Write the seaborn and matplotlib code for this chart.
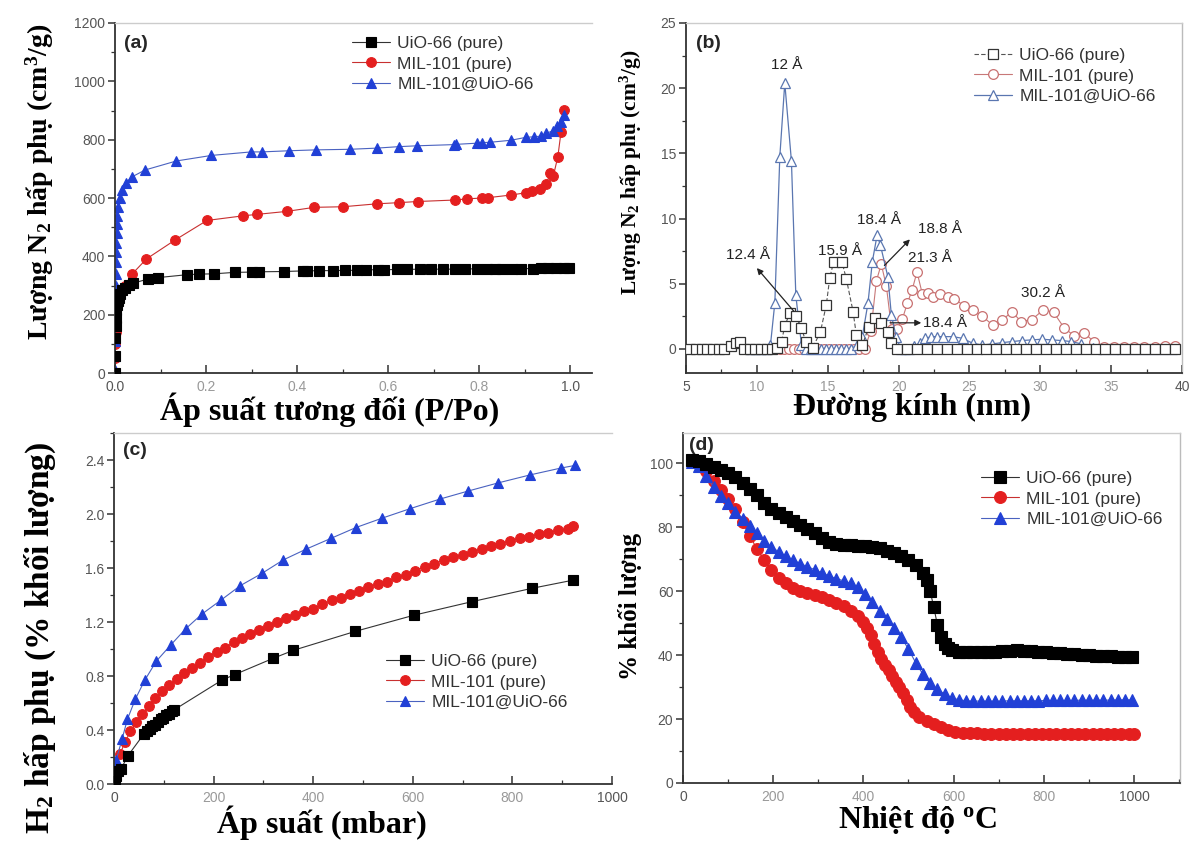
import numpy as np
import pandas as pd
import matplotlib
matplotlib.use('Agg')
import matplotlib.pyplot as plt
import seaborn as sns
from matplotlib.ticker import MultipleLocator

# ---------------- data ----------------
# (a) N2 isotherms
a_uio_x = [0.0, 0.0005, 0.001, 0.0015, 0.002, 0.003, 0.004, 0.006, 0.008, 0.012, 0.016, 0.021, 0.03, 0.04,
           0.072, 0.094, 0.158, 0.184, 0.217, 0.263, 0.30, 0.316, 0.371, 0.413, 0.421, 0.449, 0.478, 0.505,
           0.532, 0.552, 0.577, 0.591, 0.619, 0.641, 0.67, 0.695, 0.72, 0.746, 0.768, 0.796, 0.817, 0.834,
           0.851, 0.872, 0.893, 0.918, 0.935, 0.952, 0.969, 0.986, 0.998]
a_uio_y = [0, 60, 120, 160, 190, 215, 232, 248, 258, 272, 284, 292, 302, 308,
           322, 327, 337, 339, 340, 345, 346, 347, 348, 350, 350, 351, 351, 352,
           352, 354, 354, 354, 355, 355, 356, 356, 356, 356, 357, 357, 357, 358,
           358, 358, 358, 358, 359, 359, 359, 360, 360]
a_mil_x = [0.0, 0.0005, 0.001, 0.0015, 0.002, 0.003, 0.004, 0.006, 0.009, 0.015, 0.021, 0.038, 0.069,
           0.132, 0.202, 0.282, 0.313, 0.377, 0.438, 0.501, 0.575, 0.623, 0.665, 0.746, 0.773, 0.807,
           0.819, 0.869, 0.903, 0.916, 0.933, 0.948, 0.956, 0.963, 0.973, 0.98, 0.987]
a_mil_y = [0, 50, 100, 140, 175, 210, 235, 255, 270, 285, 299, 340, 391,
           456, 523, 539, 544, 554, 568, 570, 580, 584, 588, 593, 597, 600,
           601, 610, 618, 624, 632, 647, 687, 675, 742, 827, 901]
a_comp_x = [0.0, 0.0003, 0.0006, 0.0009, 0.0012, 0.0015, 0.0018, 0.0021, 0.0024, 0.0027, 0.003, 0.0035,
            0.004, 0.005, 0.007, 0.01, 0.015, 0.024, 0.038, 0.066, 0.135, 0.212, 0.299, 0.322, 0.383,
            0.441, 0.516, 0.575, 0.623, 0.664, 0.744, 0.75, 0.796, 0.807, 0.824, 0.87, 0.903, 0.921,
            0.935, 0.948, 0.963, 0.971, 0.979, 0.986]
a_comp_y = [10, 60, 110, 160, 210, 260, 300, 340, 380, 415, 445, 480,
            510, 540, 570, 599, 628, 653, 673, 696, 727, 746, 758, 758, 762,
            765, 767, 771, 776, 779, 783, 784, 788, 790, 791, 798, 808, 810,
            812, 822, 831, 847, 862, 884]

# (b) pore size distribution
b_uio_x = [5.3, 5.7, 6.1, 6.5, 6.9, 7.3, 7.7, 8.2, 8.5, 8.8, 9.1,
           9.5, 9.9, 10.3, 10.7, 11.1, 11.4, 11.74, 11.97, 12.32, 12.75,
           13.15, 13.45, 13.95, 14.49, 14.9, 15.14, 15.42, 16.0, 16.32, 16.79,
           17.02, 17.45, 17.9, 18.31, 18.78, 19.25, 19.48, 19.9, 20.6, 21.3,
           22.0, 22.7, 23.4, 24.1, 24.8, 25.5, 26.2, 26.9, 27.6, 28.3,
           29.0, 29.7, 30.4, 31.1, 31.8, 32.5, 33.2, 33.9, 34.6, 35.3,
           36.0, 36.7, 37.4, 38.1, 38.8, 39.5]
b_uio_y = [0, 0, 0, 0, 0, 0, 0, 0.2, 0.44, 0.5, 0,
           0, 0, 0, 0, 0, 0.1, 0.56, 1.76, 2.74, 2.53,
           1.59, 0.56, 0.1, 1.33, 3.37, 5.42, 6.7, 6.7, 5.34, 2.86,
           1.07, 0.3, 1.71, 2.35, 2.02, 1.33, 0.43, 0, 0, 0,
           0, 0, 0, 0, 0, 0, 0, 0, 0, 0,
           0, 0, 0, 0, 0, 0, 0, 0, 0, 0,
           0, 0, 0, 0, 0, 0]
b_mil_x = [9.5, 9.85, 10.2, 10.55, 10.9, 11.25, 11.6, 11.95, 12.3, 12.65, 13.0, 13.35, 13.7, 14.05,
           14.4, 14.75, 15.1, 15.45, 15.8, 16.15, 16.5, 16.85, 17.2, 17.6,
           18.05, 18.43, 18.78, 19.14, 19.51, 19.9, 20.27, 20.62, 20.95, 21.3,
           21.68, 22.05, 22.4, 22.94, 23.47, 23.9, 24.65, 25.23, 25.89, 26.69,
           27.3, 28.0, 28.64, 29.42, 30.21, 30.94, 31.69, 32.39, 33.1, 33.8,
           34.5, 35.2, 35.9, 36.6, 37.3, 38.1, 38.8, 39.5]
b_mil_y = [0, 0, 0, 0, 0, 0, 0, 0, 0, 0, 0, 0, 0, 0,
           0, 0, 0, 0, 0, 0, 0, 0, 0, 0,
           1.4, 5.2, 6.5, 4.8, 1.5, 1.5, 2.3, 3.5, 4.5, 5.9,
           4.2, 4.3, 3.95, 4.2, 3.95, 3.85, 3.3, 3.0, 2.5, 1.8,
           2.2, 2.85, 2.1, 2.25, 3.0, 2.8, 1.6, 1.0, 1.2, 0.55,
           0.18, 0.12, 0.12, 0.12, 0.12, 0.15, 0.2, 0.25]
b_comp_x = [9.6, 9.95, 10.3, 10.65, 10.96, 11.27, 11.62, 11.97, 12.44, 12.75,
            13.15, 13.5, 13.85, 14.2, 14.55, 14.9, 15.25, 15.6, 15.95, 16.3,
            16.65, 17.07, 17.44, 17.84, 18.15, 18.48, 18.71, 19.25, 19.49, 19.83,
            20.15, 20.45, 20.75, 21.1, 21.48, 21.9, 22.3, 22.7, 23.12, 23.82,
            24.52, 25.23, 25.9, 26.6, 27.3, 28.0, 28.7, 29.4, 30.1, 30.8,
            31.5, 32.2, 32.9, 33.7, 34.4, 35.1, 35.8, 36.5, 37.2, 37.9,
            38.6, 39.3]
b_comp_y = [0, 0, 0, 0, 0.3, 3.55, 14.75, 20.4, 14.4, 4.1,
            0.3, 0, 0, 0, 0, 0, 0, 0, 0, 0,
            0, 0.3, 0.94, 3.5, 6.7, 8.7, 8.0, 5.5, 2.6, 0.94,
            0, 0, 0, 0.2, 0.43, 0.8, 0.94, 0.94, 0.94, 0.94,
            0.81, 0.43, 0.3, 0.38, 0.48, 0.56, 0.64, 0.69, 0.74, 0.69,
            0.64, 0.56, 0.38, 0.05, 0, 0, 0, 0, 0, 0,
            0, 0]

# (c) H2 uptake
c_uio_x = [2, 4.6, 8, 14, 28, 60, 66, 72, 77, 83, 88, 94, 99, 105, 110, 116, 121,
           217, 242, 319, 360, 484, 602, 718, 840, 922]
c_uio_y = [0.02, 0.06, 0.10, 0.11, 0.21, 0.37, 0.39, 0.41, 0.43, 0.44, 0.46, 0.48, 0.49, 0.51, 0.52, 0.54, 0.55,
           0.77, 0.81, 0.93, 0.99, 1.13, 1.25, 1.35, 1.45, 1.51]
c_mil_x = [4, 12, 22, 33, 45, 57, 70, 83, 97, 111, 126, 141, 157, 173, 189, 206, 223, 240, 257, 274,
           292, 310, 328, 346, 364, 382, 400, 418, 437, 455, 474, 492, 511, 530, 548, 567, 586, 605, 624, 643,
           662, 681, 700, 719, 738, 757, 776, 795, 815, 834, 853, 872, 892, 911, 922]
c_mil_y = [0.12, 0.22, 0.31, 0.39, 0.46, 0.52, 0.58, 0.64, 0.69, 0.73, 0.78, 0.82, 0.86, 0.90, 0.94, 0.98, 1.01, 1.05, 1.08, 1.11,
           1.14, 1.17, 1.20, 1.23, 1.25, 1.28, 1.30, 1.33, 1.36, 1.38, 1.41, 1.43, 1.46, 1.48, 1.50, 1.53, 1.55, 1.58, 1.61, 1.63,
           1.66, 1.68, 1.70, 1.72, 1.74, 1.76, 1.78, 1.80, 1.82, 1.83, 1.85, 1.86, 1.88, 1.89, 1.91]
c_comp_x = [2.3, 4.6, 16, 27, 43, 62, 85, 114, 144, 177, 214, 254, 297, 340, 386, 436, 486, 539, 595, 654,
            711, 771, 836, 897, 926]
c_comp_y = [0.155, 0.18, 0.33, 0.48, 0.63, 0.77, 0.91, 1.03, 1.15, 1.26, 1.36, 1.47, 1.56, 1.66, 1.74, 1.82,
            1.90, 1.97, 2.04, 2.11, 2.17, 2.23, 2.29, 2.34, 2.36]

# (d) TGA
d_uio_x = [20, 36, 52, 68, 84, 100, 116, 132, 148, 164, 180, 196, 212, 228, 244, 260, 276, 292, 308, 324,
           340, 356, 372, 388, 404, 420, 436, 452, 468, 484, 500, 516, 532, 540, 548, 556, 564, 572, 580, 588,
           596, 612, 628, 644, 660, 676, 692, 708, 724, 740, 756, 772, 788, 804, 820, 836, 852, 868, 884, 900,
           916, 932, 948, 964, 980, 996]
d_uio_y = [101.0, 100.6, 99.8, 98.8, 97.9, 96.9, 95.5, 93.9, 92.0, 89.9, 87.6, 85.8, 84.4, 83.0, 81.8, 80.7, 79.5, 78.0, 76.5, 75.3,
           74.7, 74.4, 74.3, 74.2, 74.0, 73.8, 73.3, 72.6, 71.8, 70.9, 69.8, 68.2, 65.5, 63.5, 60.0, 55.0, 49.5, 45.5, 43.3, 42.2,
           41.5, 41.0, 40.9, 40.9, 40.9, 41.0, 41.1, 41.2, 41.4, 41.5, 41.4, 41.2, 41.0, 40.8, 40.6, 40.5, 40.3, 40.2, 40.0, 39.9,
           39.8, 39.7, 39.6, 39.5, 39.5, 39.4]
d_mil_x = [20, 36, 52, 68, 84, 100, 116, 132, 148, 164, 180, 196, 212, 228, 244, 260, 276, 292, 308, 324,
           340, 356, 372, 388, 400, 408, 416, 424, 432, 440, 448, 456, 464, 472, 480, 488, 496, 504, 512, 524,
           540, 556, 572, 588, 604, 620, 636, 652, 668, 684, 700, 716, 732, 748, 764, 780, 796, 812, 828, 844,
           860, 876, 892, 908, 924, 940, 956, 972, 988, 1000]
d_mil_y = [100.6, 99.8, 97.5, 94.5, 91.5, 88.8, 85.6, 81.5, 77.2, 73.2, 69.6, 66.6, 64.2, 62.4, 61.0, 60.0, 59.3, 58.7, 58.0, 57.2,
           56.3, 55.2, 53.9, 52.3, 50.2, 48.5, 46.2, 43.5, 41.0, 38.9, 37.0, 35.2, 33.4, 31.6, 29.9, 28.0, 25.9, 23.8, 22.1, 20.6,
           19.4, 18.4, 17.5, 16.6, 16.0, 15.6, 15.5, 15.5, 15.4, 15.4, 15.4, 15.4, 15.4, 15.4, 15.3, 15.3, 15.3, 15.3, 15.3, 15.3,
           15.3, 15.3, 15.3, 15.3, 15.3, 15.3, 15.3, 15.3, 15.2, 15.3]
d_comp_x = [20, 36, 52, 68, 84, 100, 116, 132, 148, 164, 180, 196, 212, 228, 244, 260, 276, 292, 308, 324,
            340, 356, 372, 388, 404, 420, 436, 452, 468, 484, 500, 516, 532, 548, 564, 580, 596, 612, 628, 644,
            660, 676, 692, 708, 724, 740, 756, 772, 788, 804, 820, 836, 852, 868, 884, 900, 916, 932, 948, 964,
            980, 996]
d_comp_y = [100.2, 99.0, 96.0, 92.4, 89.6, 87.4, 84.8, 82.4, 80.2, 78.0, 75.7, 73.8, 72.3, 70.9, 69.7, 68.6, 67.6, 66.7, 65.7, 64.7,
            63.9, 63.2, 62.4, 61.4, 59.2, 56.5, 53.8, 51.3, 48.6, 45.6, 41.8, 37.6, 34.0, 31.2, 29.3, 27.8, 26.6, 26.0, 25.7, 25.6,
            25.6, 25.6, 25.6, 25.6, 25.7, 25.7, 25.7, 25.7, 25.7, 25.8, 25.8, 25.8, 25.8, 25.8, 25.9, 25.9, 25.9, 25.9, 25.9, 26.0,
            26.0, 26.0]

series_names = ["UiO-66 (pure)", "MIL-101 (pure)", "MIL-101@UiO-66"]
b_series_names = ["UiO-66 (pure)", "MIL-101 (pure)", "MIL-101@UiO-66"]

a_xticks = [0.0, 0.2, 0.4, 0.6, 0.8, 1.0]
a_yticks = [0, 200, 400, 600, 800, 1000, 1200]
b_xticks = [5, 10, 15, 20, 25, 30, 35, 40]
b_yticks = [0, 5, 10, 15, 20, 25]
c_xticks = [0, 200, 400, 600, 800, 1000]
c_yticks = [0.0, 0.4, 0.8, 1.2, 1.6, 2.0, 2.4]
d_xticks = [0, 200, 400, 600, 800, 1000]
d_yticks = [0, 20, 40, 60, 80, 100]

b_notes = [("12 Å", 12.1, 21.8), ("15.9 Å", 15.9, 7.5), ("18.4 Å", 18.65, 9.9),
           ("18.8 Å", 22.9, 9.2), ("21.3 Å", 22.2, 7.0), ("30.2 Å", 30.2, 4.3), ("12.4 Å", 9.4, 7.2)]

# ---------------- style ----------------
sns.set_theme(style='white')
plt.rcParams['font.family'] = ['Liberation Sans', 'DejaVu Sans']
plt.rcParams['mathtext.fontset'] = 'custom'
plt.rcParams['mathtext.rm'] = 'Liberation Serif'
plt.rcParams['mathtext.bf'] = 'Liberation Serif:bold'
plt.rcParams['mathtext.it'] = 'Liberation Serif:italic'
plt.rcParams['legend.numpoints'] = 1

W, H = 1202, 844
fig = plt.figure(figsize=(W / 100, H / 100), dpi=100)
fig.patch.set_facecolor('white')


def rect(l, t, r, b):
    return [l / W, 1 - b / H, (r - l) / W, (b - t) / H]


def fx(px):
    return px / W


def fy(py):
    return 1 - py / H


BLACK, RED, BLUE = '#000000', '#e41f1f', '#2140d6'
LBLACK, LRED, LBLUE = '#333333', '#c83030', '#4a62c0'


def draw(ax, x, y, label, marker, mcolor, lcolor, ms, mfc=None, ls='-', lw=0.8, mew=0.8, z=2):
    df = pd.DataFrame({'x': x, 'y': y})
    sns.lineplot(data=df, x='x', y='y', ax=ax, estimator=None, sort=False, label=label,
                 color=lcolor, linewidth=lw, linestyle=ls, marker=marker, markersize=ms,
                 markerfacecolor=(mcolor if mfc is None else mfc), markeredgecolor=mcolor,
                 markeredgewidth=mew, zorder=z)


def style_axes(ax, xlim, ylim, xt, yt, xfmt, yfmt, xminor, yminor, right=False):
    ax.set_xlim(*xlim)
    ax.set_ylim(*ylim)
    ax.set_xlabel('')
    ax.set_ylabel('')
    ax.set_xticks(xt)
    xl = ax.set_xticklabels([xfmt.format(v) for v in xt])
    ax.set_yticks(yt)
    ax.set_yticklabels([yfmt.format(v) for v in yt])
    ax.xaxis.set_minor_locator(MultipleLocator(xminor))
    ax.yaxis.set_minor_locator(MultipleLocator(yminor))
    ax.tick_params(axis='x', which='major', direction='in', length=6, width=1.1, color='#333',
                   bottom=True, top=False, labelsize=10, labelcolor='#555', pad=5)
    ax.tick_params(axis='x', which='minor', direction='in', length=3, width=0.9, color='#333',
                   bottom=True, top=False)
    ax.tick_params(axis='y', which='major', direction='out', length=5, width=1.1, color='#333',
                   left=True, right=False, labelsize=10, labelcolor='#555', pad=2)
    ax.tick_params(axis='y', which='minor', direction='out', length=3, width=0.9, color='#333',
                   left=True, right=False)
    for i, t in enumerate(xl):
        if 0 < i < len(xl) - 1:
            t.set_color('#999999')
    for s in ['left', 'bottom']:
        ax.spines[s].set_color('#333333')
        ax.spines[s].set_linewidth(1.3)
    ax.spines['top'].set_color('#cccccc')
    ax.spines['top'].set_linewidth(1.0)
    ax.spines['right'].set_visible(right)
    ax.spines['right'].set_color('#bbbbbb')
    ax.spines['right'].set_linewidth(1.0)
    ax.set_facecolor('white')


def legend(ax, lx, ly):
    leg = ax.legend(loc='upper left', bbox_to_anchor=(fx(lx), fy(ly)), bbox_transform=fig.transFigure,
                    frameon=False, fontsize=12.5, handlelength=2.2, handletextpad=0.4,
                    labelspacing=0.3, borderaxespad=0, borderpad=0)
    for t in leg.get_texts():
        t.set_color('#333333')
    return leg


# ---------------- (a) ----------------
axA = fig.add_axes(rect(115, 23, 592, 373))
draw(axA, a_uio_x, a_uio_y, series_names[0], 's', BLACK, LBLACK, 6.5, z=3)
draw(axA, a_mil_x, a_mil_y, series_names[1], 'o', RED, LRED, 7, z=2)
draw(axA, a_comp_x, a_comp_y, series_names[2], '^', BLUE, LBLUE, 7, z=2)
style_axes(axA, (0, 1.048), (0, 1200), a_xticks, a_yticks, '{:.1f}', '{:d}', 0.1, 100)
legend(axA, 352, 36)
axA.text(0.018, 0.965, '(a)', transform=axA.transAxes, fontsize=14, fontweight='bold', va='top', ha='left')

# ---------------- (b) ----------------
axB = fig.add_axes(rect(686, 23, 1182, 373))
draw(axB, b_uio_x, b_uio_y, b_series_names[0], 's', '#333333', '#555555', 6.5, mfc='white', ls=(0, (4, 2)), lw=0.8, mew=0.9, z=3)
draw(axB, b_mil_x, b_mil_y, b_series_names[1], 'o', '#c87070', '#c87878', 7, mfc='white', lw=0.8, mew=0.9, z=2)
draw(axB, b_comp_x, b_comp_y, b_series_names[2], '^', '#5a76b0', '#5a76b0', 7, mfc='white', lw=0.9, mew=0.9, z=2)
style_axes(axB, (5, 40), (-1.85, 25), b_xticks, b_yticks, '{:d}', '{:d}', 2.5, 2.5, right=True)
legend(axB, 974, 48)
axB.text(0.02, 0.965, '(b)', transform=axB.transAxes, fontsize=14, fontweight='bold', va='top', ha='left')
for txt, tx, ty in b_notes:
    axB.text(tx, ty, txt, fontsize=11, color='#222222', ha='center', va='center', zorder=5)
arrow_kw = dict(arrowstyle='-|>', color='#222222', lw=0.9, mutation_scale=9, shrinkA=0, shrinkB=0)
axB.annotate('', xy=(10.0, 6.2), xytext=(12.6, 2.9), arrowprops=arrow_kw)
axB.annotate('', xy=(20.8, 8.4), xytext=(19.0, 6.4), arrowprops=arrow_kw)
axB.annotate('', xy=(21.6, 2.0), xytext=(19.4, 2.0), arrowprops=arrow_kw)
axB.text(21.7, 2.0, '18.4 Å', fontsize=11, color='#222222', ha='left', va='center', zorder=5)

# ---------------- (c) ----------------
axC = fig.add_axes(rect(114, 433, 612, 784))
draw(axC, c_uio_x, c_uio_y, series_names[0], 's', BLACK, LBLACK, 6.5, z=3)
draw(axC, c_mil_x, c_mil_y, series_names[1], 'o', RED, LRED, 7, z=2)
draw(axC, c_comp_x, c_comp_y, series_names[2], '^', BLUE, LBLUE, 7, z=2)
style_axes(axC, (0, 1000), (0, 2.6), c_xticks, c_yticks, '{:d}', '{:.1f}', 100, 0.2)
legend(axC, 386, 654)
axC.text(0.018, 0.975, '(c)', transform=axC.transAxes, fontsize=14, fontweight='bold', va='top', ha='left')

# ---------------- (d) ----------------
axD = fig.add_axes(rect(683, 433, 1180, 783))
draw(axD, d_uio_x, d_uio_y, series_names[0], 's', BLACK, LBLACK, 8, z=3)
draw(axD, d_mil_x, d_mil_y, series_names[1], 'o', RED, LRED, 8.5, z=2)
draw(axD, d_comp_x, d_comp_y, series_names[2], '^', BLUE, LBLUE, 8.5, z=2)
style_axes(axD, (0, 1102), (0, 109.4), d_xticks, d_yticks, '{:d}', '{:d}', 100, 10, right=True)
legend(axD, 981, 471)
axD.text(0.012, 0.99, '(d)', transform=axD.transAxes, fontsize=14, fontweight='bold', va='top', ha='left')

# ---------------- axis titles ----------------
serif = dict(family=['Liberation Serif', 'DejaVu Serif'], fontweight='bold', color='black')
fig.text(fx(40), fy(182), r'Lượng N$_{\mathbf{2}}$ hấp phụ (cm$^{\mathbf{3}}$/g)', rotation=90,
         ha='center', va='center', fontsize=20, **serif)
fig.text(fx(631), fy(172), r'Lượng N$_{\mathbf{2}}$ hấp phụ (cm$^{\mathbf{3}}$/g)', rotation=90,
         ha='center', va='center', fontsize=15.5, **serif)
fig.text(fx(40), fy(834), r'H$_{\mathbf{2}}$ hấp phụ (% khối lượng)', rotation=90,
         ha='center', va='bottom', fontsize=24, **serif)
fig.text(fx(630), fy(606), '% khối lượng', rotation=90,
         ha='center', va='center', fontsize=18, **serif)

fig.text(fx(330), fy(393), 'Áp suất tương đối (P/Po)', ha='center', va='top', fontsize=23, **serif)
fig.text(fx(912), fy(393), 'Đường kính (nm)', ha='center', va='top', fontsize=23, **serif)
fig.text(fx(322), fy(806), 'Áp suất (mbar)', ha='center', va='top', fontsize=23, **serif)
fig.text(fx(918), fy(804), r'Nhiệt độ $^{\mathbf{o}}$C', ha='center', va='top', fontsize=23, **serif)

fig.savefig('out.png', dpi=100, facecolor='white')
